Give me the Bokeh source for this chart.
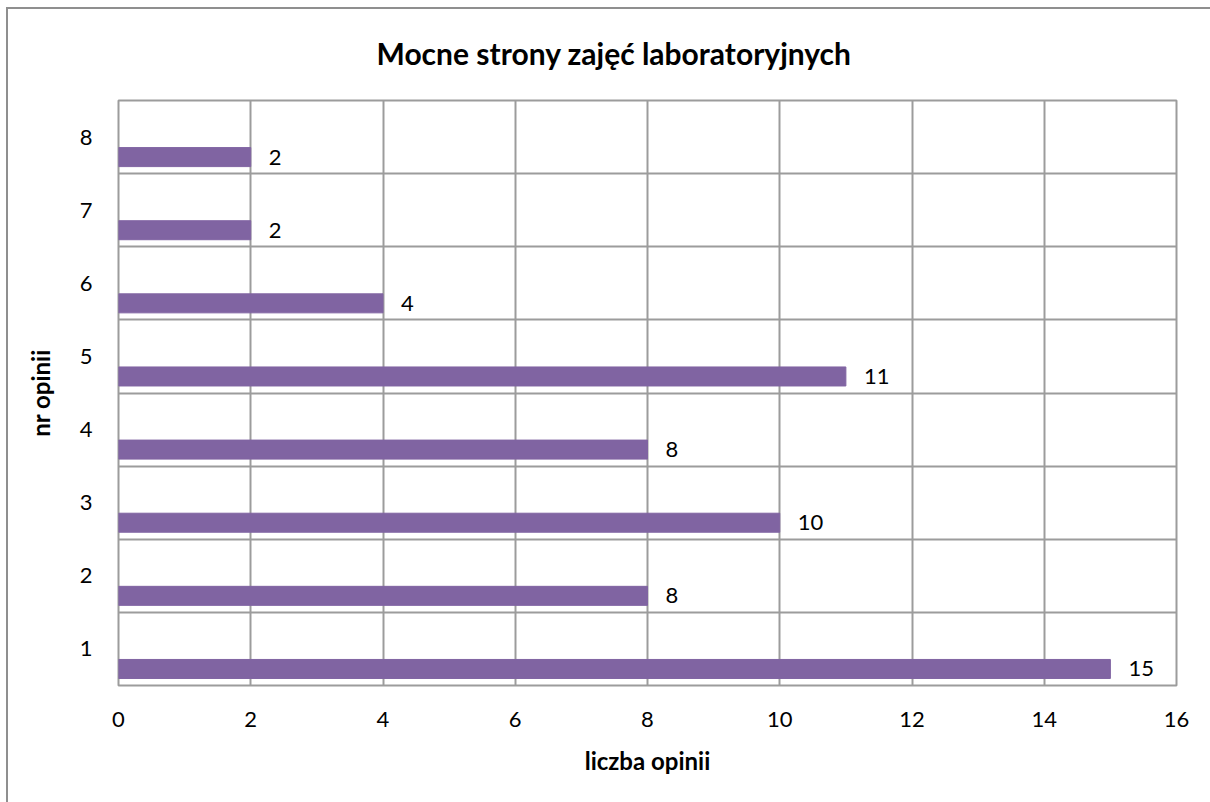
from bokeh.plotting import figure
from bokeh.models import ColumnDataSource, FixedTicker, Range1d
from bokeh.transform import dodge
from bokeh.core.properties import value
from bokeh.embed import file_html
from bokeh.resources import INLINE

# ---- data ----
chart_title = "Mocne strony zajęć laboratoryjnych"
x_title = "liczba opinii"
y_title = "nr opinii"
opinions = [1, 2, 3, 4, 5, 6, 7, 8]
counts = [15, 8, 10, 8, 11, 4, 2, 2]
x_ticks = [0, 2, 4, 6, 8, 10, 12, 14, 16]

# ---- style ----
FONT = "Lato"
GRID = "#9c9c9c"
BORDER = "#8f8f8f"
BAR = "#8064A2"
BAR_SHIFT = -0.274
BAR_H = 0.26

src = ColumnDataSource(dict(
    opinion=opinions,
    count=counts,
    label=[str(c) for c in counts],
))

p = figure(
    width=1210, height=802,
    output_backend="svg", toolbar_location=None,
    x_range=Range1d(x_ticks[0], x_ticks[-1]),
    y_range=Range1d(opinions[0] - 0.5, opinions[-1] + 0.5),
    min_border_left=118, min_border_right=34,
    min_border_top=100, min_border_bottom=117,
)
# outer chart-area border (left and top edges), drawn behind a transparent border fill
p.styles = {
    "background": (
        f"linear-gradient({BORDER},{BORDER}) 6px 7px / 2px 100% no-repeat, "
        f"linear-gradient({BORDER},{BORDER}) 6px 7px / 100% 2px no-repeat, white"
    ),
}
p.background_fill_color = "white"
p.border_fill_color = None
p.outline_line_color = GRID
p.outline_line_width = 2
p.outline_line_alpha = 1

p.hbar(y=dodge("opinion", BAR_SHIFT), left=0, right="count", height=BAR_H,
       source=src, fill_color=BAR, line_color=BAR)

p.text(x="count", y=dodge("opinion", BAR_SHIFT), text="label", source=src,
       x_offset=18, text_align="left", text_baseline="middle",
       text_font=value(FONT), text_font_size="22px", text_color="black")

# grids
p.xgrid.ticker = FixedTicker(ticks=x_ticks)
p.ygrid.ticker = FixedTicker(ticks=[o - 0.5 for o in opinions] + [opinions[-1] + 0.5])
for g in (p.xgrid, p.ygrid):
    g.grid_line_color = GRID
    g.grid_line_width = 2
    g.grid_line_alpha = 1

# axes
p.xaxis.ticker = FixedTicker(ticks=x_ticks)
p.yaxis.ticker = FixedTicker(ticks=opinions)
for ax in (p.xaxis, p.yaxis):
    ax.axis_line_color = None
    ax.major_tick_out = 0
    ax.major_tick_in = 0
    ax.minor_tick_out = 0
    ax.minor_tick_in = 0
    ax.major_label_text_font = FONT
    ax.major_label_text_font_size = "22px"
    ax.major_label_text_color = "black"
    ax.axis_label_text_font = FONT
    ax.axis_label_text_font_size = "24px"
    ax.axis_label_text_font_style = "bold"
    ax.axis_label_text_color = "black"

p.xaxis.axis_label = x_title
p.yaxis.axis_label = y_title
p.xaxis.major_label_standoff = 26
p.xaxis.axis_label_standoff = 16
p.yaxis.major_label_standoff = 26
p.yaxis.axis_label_standoff = 22

# chart title, centred on the chart area
p.title.text = chart_title
p.title.text_font = FONT
p.title.text_font_size = "30px"
p.title.text_font_style = "bold"
p.title.text_color = "black"
p.title.align = "left"
p.title.offset = 258
p.title.vertical_align = "middle"
p.title.standoff = 58

open("out.html", "w").write(file_html(p, INLINE))
